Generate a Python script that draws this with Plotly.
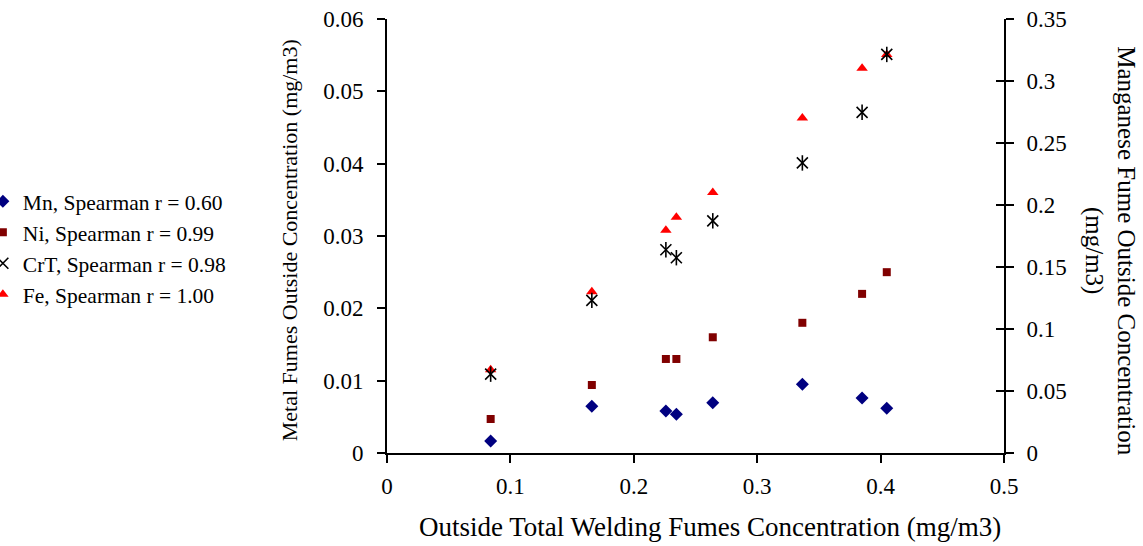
import plotly.graph_objects as go

x_total = [0.084, 0.166, 0.226, 0.2345, 0.264, 0.3366, 0.385, 0.405]
mn_vals = [0.0097, 0.0377, 0.0339, 0.0312, 0.0406, 0.0554, 0.0444, 0.0360]
ni_vals = [0.0047, 0.0094, 0.0130, 0.0130, 0.0160, 0.0180, 0.0220, 0.0250]
crt_vals = [0.0109, 0.0211, 0.0281, 0.0270, 0.0321, 0.0401, 0.0471, 0.0551]
fe_vals = [0.0115, 0.0223, 0.0308, 0.0326, 0.0360, 0.0463, 0.0532, 0.0551]

names = ["Mn, Spearman r = 0.60", "Ni, Spearman r = 0.99",
         "CrT, Spearman r = 0.98", "Fe, Spearman r = 1.00"]

FONT = "Liberation Serif, Times New Roman, serif"

fig = go.Figure()
fig.add_trace(go.Scatter(x=x_total, y=mn_vals, yaxis="y2", mode="markers", name=names[0],
                         legendrank=1,
                         marker=dict(symbol="diamond", size=10, color="#000080")))
fig.add_trace(go.Scatter(x=x_total, y=ni_vals, mode="markers", name=names[1], legendrank=2,
                         marker=dict(symbol="square", size=8, color="#800000")))
fig.add_trace(go.Scatter(x=x_total, y=fe_vals, mode="markers", name=names[3], legendrank=4,
                         marker=dict(symbol="triangle-up", size=10, color="#FF0000")))
fig.add_trace(go.Scatter(x=x_total, y=crt_vals, mode="markers", name=names[2], legendrank=3,
                         marker=dict(symbol="x-thin-open", size=11, color="black",
                                     line=dict(width=1.6, color="black"))))
fig.add_trace(go.Scatter(x=x_total, y=crt_vals, mode="markers", showlegend=False,
                         hoverinfo="skip",
                         marker=dict(symbol="line-ns-open", size=11, color="black",
                                     line=dict(width=1.6, color="black"))))
# dummy trace so the inside-tick axis is drawn
fig.add_trace(go.Scatter(x=[None], y=[None], yaxis="y3", showlegend=False, hoverinfo="skip"))

axis_common = dict(showgrid=False, zeroline=False, showline=True, linecolor="black",
                   linewidth=2, ticks="outside", ticklen=8, tickwidth=1.5, tickcolor="black",
                   tickfont=dict(family=FONT, size=23, color="black"))

fig.update_layout(
    width=1143, height=546,
    margin=dict(l=387, r=139, t=19, b=93, autoexpand=False),
    plot_bgcolor="white", paper_bgcolor="white",
    font=dict(family=FONT, color="black"),
    xaxis=dict(range=[0, 0.5], dtick=0.1, ticklabelstandoff=3, **axis_common),
    yaxis=dict(range=[0, 0.06], dtick=0.01, ticklabelstandoff=9, **axis_common),
    yaxis2=dict(range=[0, 0.35], dtick=0.05, overlaying="y", side="right",
                ticklabelstandoff=8, **axis_common),
    yaxis3=dict(range=[0, 0.35], dtick=0.05, overlaying="y", side="right",
                showgrid=False, zeroline=False, showline=False, ticks="inside",
                ticklen=8, tickwidth=1.5, tickcolor="black", showticklabels=False),
    legend=dict(x=-0.655, xanchor="left", y=0.627, yanchor="top",
                font=dict(family=FONT, size=21.5, color="black"),
                bgcolor="rgba(0,0,0,0)", tracegroupgap=0, itemwidth=30),
    showlegend=True,
    annotations=[
        dict(text="Outside Total Welding Fumes Concentration (mg/m3)", xref="paper", yref="paper",
             x=0.523, y=-0.17, xanchor="center", yanchor="middle", showarrow=False,
             font=dict(family=FONT, size=27, color="black")),
        dict(text="Metal Fumes Outside Concentration (mg/m3)", xref="paper", yref="paper",
             x=-0.159, y=0.49, xanchor="center", yanchor="middle", showarrow=False,
             textangle=-90, font=dict(family=FONT, size=22, color="black")),
        dict(text="Manganese Fume Outside Concentration<br>(mg/m3)", xref="paper", yref="paper",
             x=1.172, y=0.467, xanchor="center", yanchor="middle", showarrow=False,
             textangle=90, font=dict(family=FONT, size=25, color="black")),
    ],
)

fig.write_html("out.html")
